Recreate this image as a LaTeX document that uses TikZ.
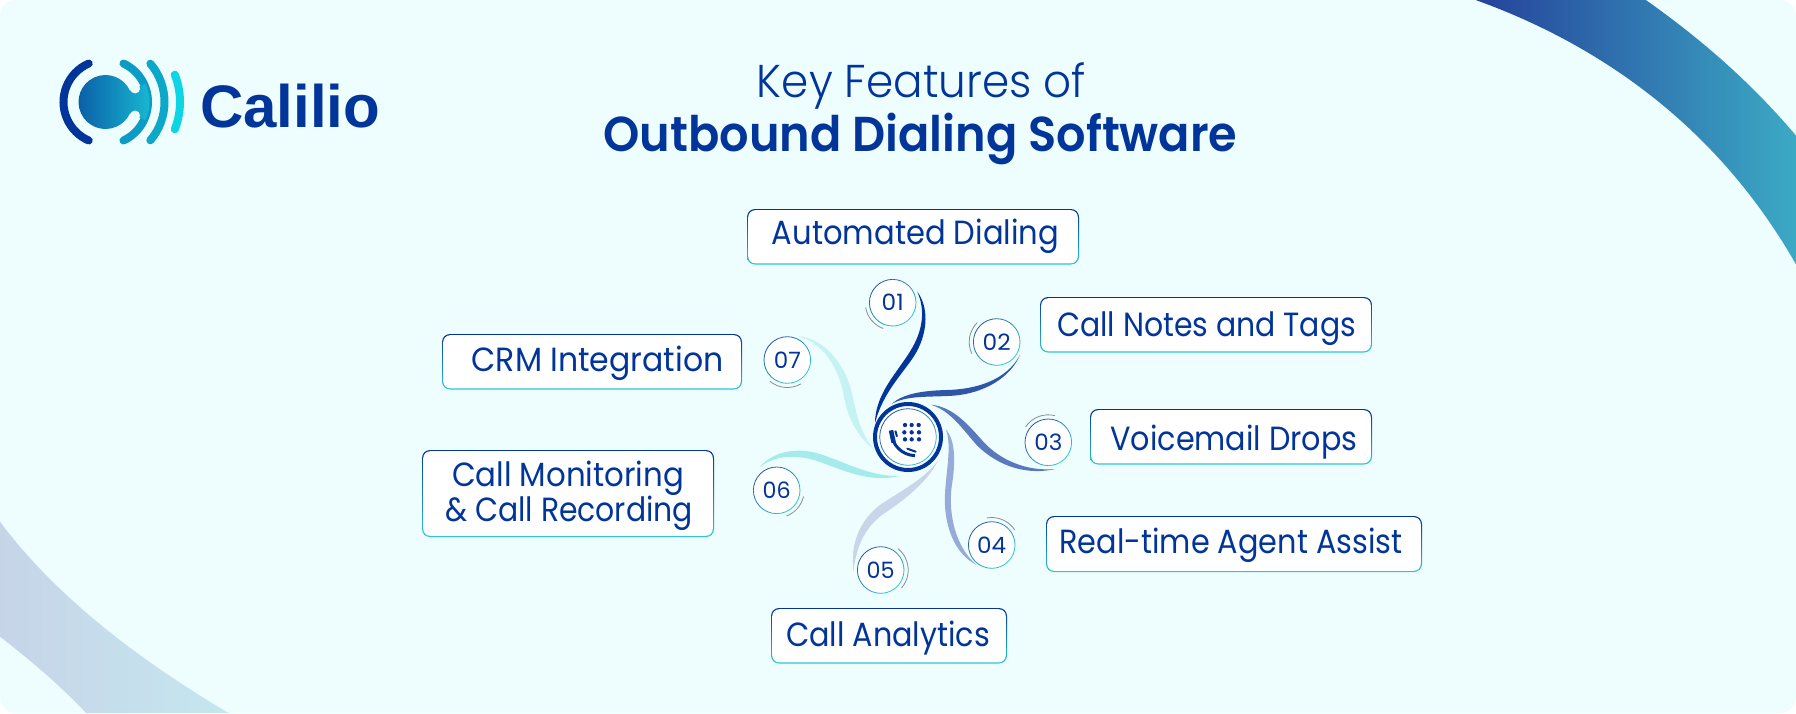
\documentclass[tikz,border=0pt]{standalone}
\usepackage{fontspec}
\usepackage{graphicx}
\setmainfont{Poppins}
\newfontfamily\plight{Poppins Light}
\newfontfamily\psemi{Poppins SemiBold}
\newfontfamily\logofont{Liberation Sans Bold}
\definecolor{bgc}{HTML}{EEFEFF}
\definecolor{dk}{HTML}{02359A}
\definecolor{tl}{HTML}{2CC8D6}
\definecolor{ringd}{HTML}{24569F}
\definecolor{sa}{HTML}{02359A}
\definecolor{sb}{HTML}{2E55A8}
\definecolor{sc}{HTML}{5A78BC}
\definecolor{sd}{HTML}{98ABD8}
\definecolor{se}{HTML}{C9D5E8}
\definecolor{sf}{HTML}{A5EBEB}
\definecolor{sg}{HTML}{C5F3F3}
\definecolor{swa}{HTML}{24409A}
\definecolor{swb}{HTML}{2F7FB0}
\definecolor{swc}{HTML}{3CAAC5}
\definecolor{swd}{HTML}{C6D4E8}
\definecolor{swe}{HTML}{C5E7EF}
\definecolor{lga}{HTML}{0A5CA5}
\definecolor{lgb}{HTML}{18B8D2}
\definecolor{lgc}{HTML}{0A9CC4}
\definecolor{lgd}{HTML}{0BA8C9}
\definecolor{lge}{HTML}{0DD5E3}
\newcommand{\fitw}[2]{\resizebox{#1pt}{\height}{#2}}
\tikzset{
  labeltxt/.style={anchor=base,inner sep=0pt,text=dk,font=\fontsize{33.5}{33.5}\selectfont},
  boxfill/.style={fill=white,rounded corners=7pt,inner sep=0pt},
  numtxt/.style={inner sep=0pt,text=dk,font=\fontsize{22.5}{22.5}\selectfont},
  accent/.style={draw=black!45,line width=0.8pt},
}
% name, x1,y1,x2,y2
\newcommand{\labelbox}[5]{%
  \shade[top color=dk,bottom color=tl,rounded corners=8pt] (#2,#3) rectangle (#4,#5);
  \node[boxfill,minimum width=#4pt-#2pt-2.4pt,minimum height=#5pt-#3pt-2.4pt] (#1) at ({(#2+#4)/2},{(#3+#5)/2}) {};
}
% name, x, y, text, accent a1, a2, text width
\newcommand{\numcirc}[7]{%
  \node[circle,fill=white,minimum size=46.5pt,inner sep=0pt] (#1) at (#2,#3) {};
  \begin{scope}[shift={(#2,#3)},x=1pt,y=1pt]
    \foreach \a in {0,22.5,...,337.5}{
      \pgfmathsetmacro\m{50+50*cos(\a+11.25-135)}
      \draw[line width=0.8pt,color=ringd!\m!tl] (\a:23.3) arc[start angle=\a,delta angle=22.6,radius=23.3];
    }
    \draw[accent] (#5:27.5) arc[start angle=#5,end angle=#6,radius=27.5];
  \end{scope}
  \node[numtxt] at (#1.center) {\fitw{#7}{#4}};
}
\begin{document}
\begin{tikzpicture}[x=1pt,y=-1pt]
\useasboundingbox (0,0) rectangle (1796,713);
\fill[white] (0,0) rectangle (1796,713);
\fill[bgc,rounded corners=16pt] (0,0) rectangle (1796,713);
\begin{scope}
  \clip[rounded corners=16pt] (0,0) rectangle (1796,713);
  \shade[left color=swa,middle color=swb,right color=swc]
    (1470,-2) .. controls (1590,40) and (1715,120) .. (1798,268)
    -- (1798,138) .. controls (1752,83) and (1700,38) .. (1643,-2) -- cycle;
  \shade[left color=swd,right color=swe]
    (-2,519) .. controls (50,590) and (130,655) .. (232,715)
    -- (88,715) .. controls (60,685) and (30,660) .. (-2,635) -- cycle;
\end{scope}

% logo
\begin{scope}[shift={(105.5,102)},x=1pt,y=1pt]
  \draw[line width=8pt,line cap=round,color=dk] (113.5:42) arc[start angle=113.5,end angle=246.5,radius=42];
  \draw[line width=8pt,line cap=round,color=lgc] (-65:42.5) arc[start angle=-65,end angle=65,radius=42.5];
  \draw[line width=8pt,line cap=round,color=lgd] (-40.5:59) arc[start angle=-40.5,end angle=40.5,radius=59];
  \draw[line width=8pt,line cap=round,color=lge] (-21.5:74.5) arc[start angle=-21.5,end angle=21.5,radius=74.5];
  \shade[left color=lga,right color=lgb]
    (24.6:27) arc[start angle=24.6,end angle=335.4,radius=27]
    -- (-24.6:44) arc[start angle=-24.6,end angle=24.6,radius=44] -- cycle;
  \fill[bgc] (24.6:32.5) circle[radius=5];
  \fill[bgc] (-24.6:32.5) circle[radius=5];
\end{scope}
\node[anchor=base west,inner sep=0pt,text=dk,font=\logofont\fontsize{60}{60}\selectfont] (logotext) at (200,127.5) {\fitw{180}{Calilio}};

% title
\node[anchor=base,inner sep=0pt,text=dk,font=\plight\fontsize{46}{46}\selectfont] (title1) at (921.5,97.5) {\fitw{329}{Key Features of}};
\node[anchor=base,inner sep=0pt,text=dk,font=\psemi\fontsize{49}{49}\selectfont] (title2) at (920.5,151) {\fitw{634}{Outbound Dialing Software}};

% label boxes
\labelbox{b1}{747}{209}{1079}{264.5}
\labelbox{b2}{1040}{297}{1372}{352.5}
\labelbox{b3}{1090}{409}{1372}{464.5}
\labelbox{b4}{1046}{516}{1422}{572}
\labelbox{b5}{771}{608}{1007}{663.5}
\labelbox{b6}{442}{334}{742}{389.5}
\labelbox{b7}{422}{450}{714}{537}
\node[labeltxt] (t1) at (915.5,244) {\fitw{287}{Automated Dialing}};
\node[labeltxt] (t2) at (1206.5,336) {\fitw{299}{Call Notes and Tags}};
\node[labeltxt] (t3) at (1234,450) {\fitw{247}{Voicemail Drops}};
\node[labeltxt] (t4) at (1231,553) {\fitw{343}{Real-time Agent Assist}};
\node[labeltxt] (t5) at (888,646) {\fitw{204}{Call Analytics}};
\node[labeltxt] (t6) at (597.5,371) {\fitw{252}{CRM Integration}};
\node[labeltxt] (t7) at (568,486) {\fitw{232}{Call Monitoring}};
\node[labeltxt] (t8) at (569,521) {\fitw{248}{\& Call Recording}};

% swooshes and centre, in coordinates of the enlarged crop
\begin{scope}[shift={(720,260)},x=0.33333pt,y=-0.33333pt]
  \fill[sg] (235,228) .. controls (320,238) and (380,320) .. (398,410) .. controls (412,480) and (430,535) .. (465,570) .. controls (410,530) and (382,470) .. (372,410) .. controls (355,320) and (310,250) .. (235,228) -- cycle;
  \fill[sf] (120,620) .. controls (160,575) and (230,560) .. (300,582) .. controls (380,608) and (450,650) .. (540,648) .. controls (450,668) and (380,635) .. (300,606) .. controls (230,582) and (170,585) .. (120,620) -- cycle;
  \fill[se] (655,600) .. controls (625,662) and (560,715) .. (500,755) .. controls (440,795) and (410,850) .. (400,935) .. controls (390,850) and (420,775) .. (490,728) .. controls (560,683) and (620,650) .. (655,600) -- cycle;
  \fill[sd] (678,508) .. controls (705,540) and (708,600) .. (695,680) .. controls (685,760) and (705,860) .. (770,915) .. controls (700,880) and (670,790) .. (675,700) .. controls (680,620) and (695,560) .. (678,508) -- cycle;
  \fill[sc] (632,434) .. controls (700,440) and (745,495) .. (790,545) .. controls (840,600) and (920,635) .. (1005,627) .. controls (930,645) and (840,625) .. (770,555) .. controls (730,510) and (690,450) .. (632,434) -- cycle;
  \fill[sb] (515,432) .. controls (550,400) and (610,392) .. (680,390) .. controls (770,388) and (860,360) .. (900,285) .. controls (870,355) and (790,400) .. (700,407) .. controls (630,412) and (560,405) .. (515,432) -- cycle;
  \fill[sa] (592,95) .. controls (625,140) and (625,210) .. (590,275) .. controls (560,330) and (490,390) .. (465,490) .. controls (465,410) and (520,350) .. (560,290) .. controls (605,225) and (620,160) .. (592,95) -- cycle;
\end{scope}

\node[circle,fill=white,draw=dk,line width=4pt,minimum size=66pt,inner sep=0pt] (hub) at (908,437) {};
\begin{scope}[shift={(908,437)},x=1pt,y=1pt]
  \foreach \a in {0,22.5,...,337.5}{
    \pgfmathsetmacro\m{50+50*cos(\a+11.25-135)}
    \draw[line width=0.8pt,color=ringd!\m!tl] (\a:28.3) arc[start angle=\a,delta angle=22.6,radius=28.3];
  }
\end{scope}
\begin{scope}[shift={(720,260)},x=0.33333pt,y=-0.33333pt]
  \foreach \p in {(555,495),(575,495),(596,495),(553,517),(575,517),(597,517),(555,538),(575,538),(597,538)}
    \fill[dk] \p circle[radius=6.5];
  \draw[dk,line width=3pt] (514,520) .. controls (517,555) and (545,585) .. (585,587);
  \draw[dk,line width=4.5pt] (513,511) -- (521,548);
  \draw[dk,line width=2pt] (526,512) -- (531,530);
  \draw[dk,line width=2pt,line cap=round] (562,566) -- (587,575);
\end{scope}

% numbered circles
\numcirc{n1}{892.7}{302.7}{01}{190}{250}{22}
\numcirc{n2}{996.7}{342}{02}{135}{205}{28}
\numcirc{n3}{1048.3}{442.3}{03}{76}{146}{28}
\numcirc{n4}{991.7}{545}{04}{33}{100}{29}
\numcirc{n5}{880.7}{570}{05}{-41}{51}{28}
\numcirc{n6}{776.7}{490.3}{06}{-69}{-13}{28}
\numcirc{n7}{787.3}{360}{07}{231}{300}{27}
\end{tikzpicture}
\end{document}
